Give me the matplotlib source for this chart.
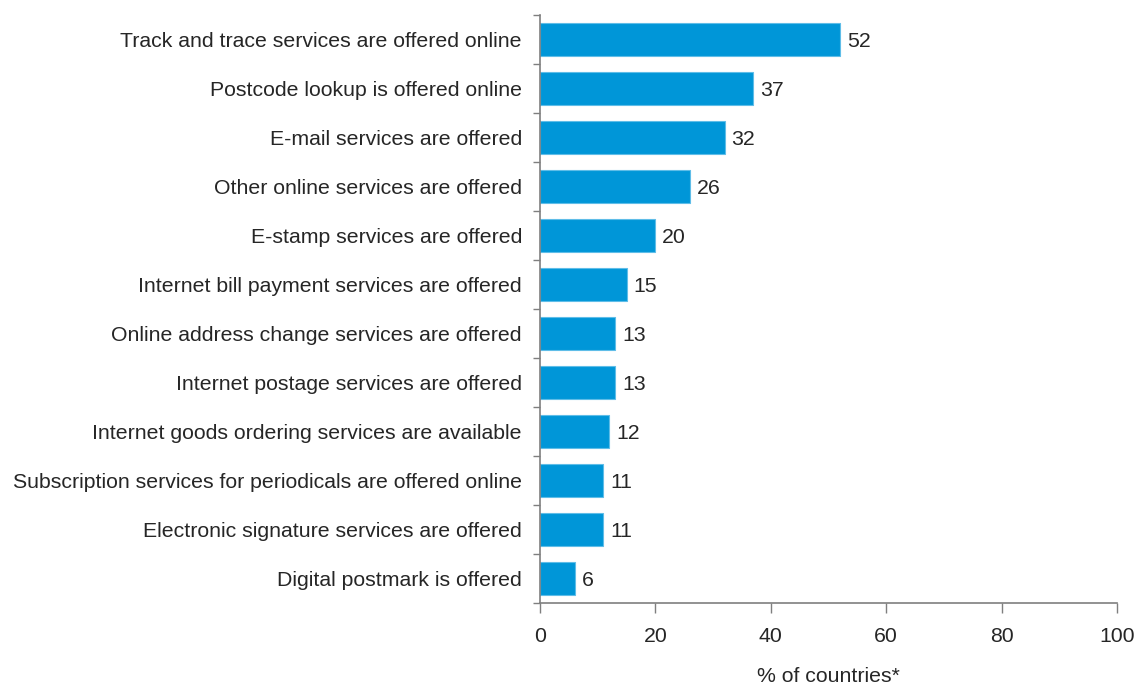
import matplotlib
matplotlib.use("Agg")
import matplotlib.pyplot as plt
import numpy as np

plt.rcParams['font.family'] = ['Liberation Sans', 'DejaVu Sans']

categories = [
    "Track and trace services are offered online",
    "Postcode lookup is offered online",
    "E-mail services are offered",
    "Other online services are offered",
    "E-stamp services are offered",
    "Internet bill payment services are offered",
    "Online address change services are offered",
    "Internet postage services are offered",
    "Internet goods ordering services are available",
    "Subscription services for periodicals are offered online",
    "Electronic signature services are offered",
    "Digital postmark is offered",
]
values = [52, 37, 32, 26, 20, 15, 13, 13, 12, 11, 11, 6]
x_ticks = [0, 20, 40, 60, 80, 100]
x_label = "% of countries*"

bar_color = "#0096D8"
text_color = "#262626"
axis_color = "#7f7f7f"
fs = 15.3

fig = plt.figure(figsize=(11.39, 6.86), dpi=100)
ax = fig.add_axes([0.4741, 0.121, 0.5066, 0.857])

n = len(categories)
y = np.arange(n)
ax.barh(y, values, height=0.68, color=bar_color, edgecolor="#5fbde8", linewidth=0.8, zorder=2)

for yi, v in zip(y, values):
    ax.annotate(str(v), (v, yi), xytext=(5, 0), textcoords="offset points",
                va="center_baseline", ha="left", fontsize=fs, color=text_color)

ax.set_ylim(n - 0.5, -0.5)
ax.set_xlim(0, 100)

# Category names as minor labels, ticks drawn at boundaries between bars
ax.set_yticks(np.arange(-0.5, n, 1.0))
ax.set_yticklabels([])
ax.set_yticks(y, minor=True)
ax.set_yticklabels(categories, minor=True, fontsize=fs, color=text_color,
                   va="center_baseline")
ax.tick_params(axis="y", which="minor", length=0, pad=13)
ax.tick_params(axis="y", which="major", length=5, width=1, color=axis_color, direction="out")

ax.set_xticks(x_ticks)
ax.set_xticklabels([str(t) for t in x_ticks], fontsize=fs, color=text_color)
ax.tick_params(axis="x", length=7, width=1, color=axis_color, direction="out", pad=10)
ax.set_xlabel(x_label, fontsize=fs, color=text_color, labelpad=15.5)

for side in ("top", "right"):
    ax.spines[side].set_visible(False)
for side in ("left", "bottom"):
    ax.spines[side].set_color(axis_color)
    ax.spines[side].set_linewidth(1.2)

fig.savefig("out.png", dpi=100)
